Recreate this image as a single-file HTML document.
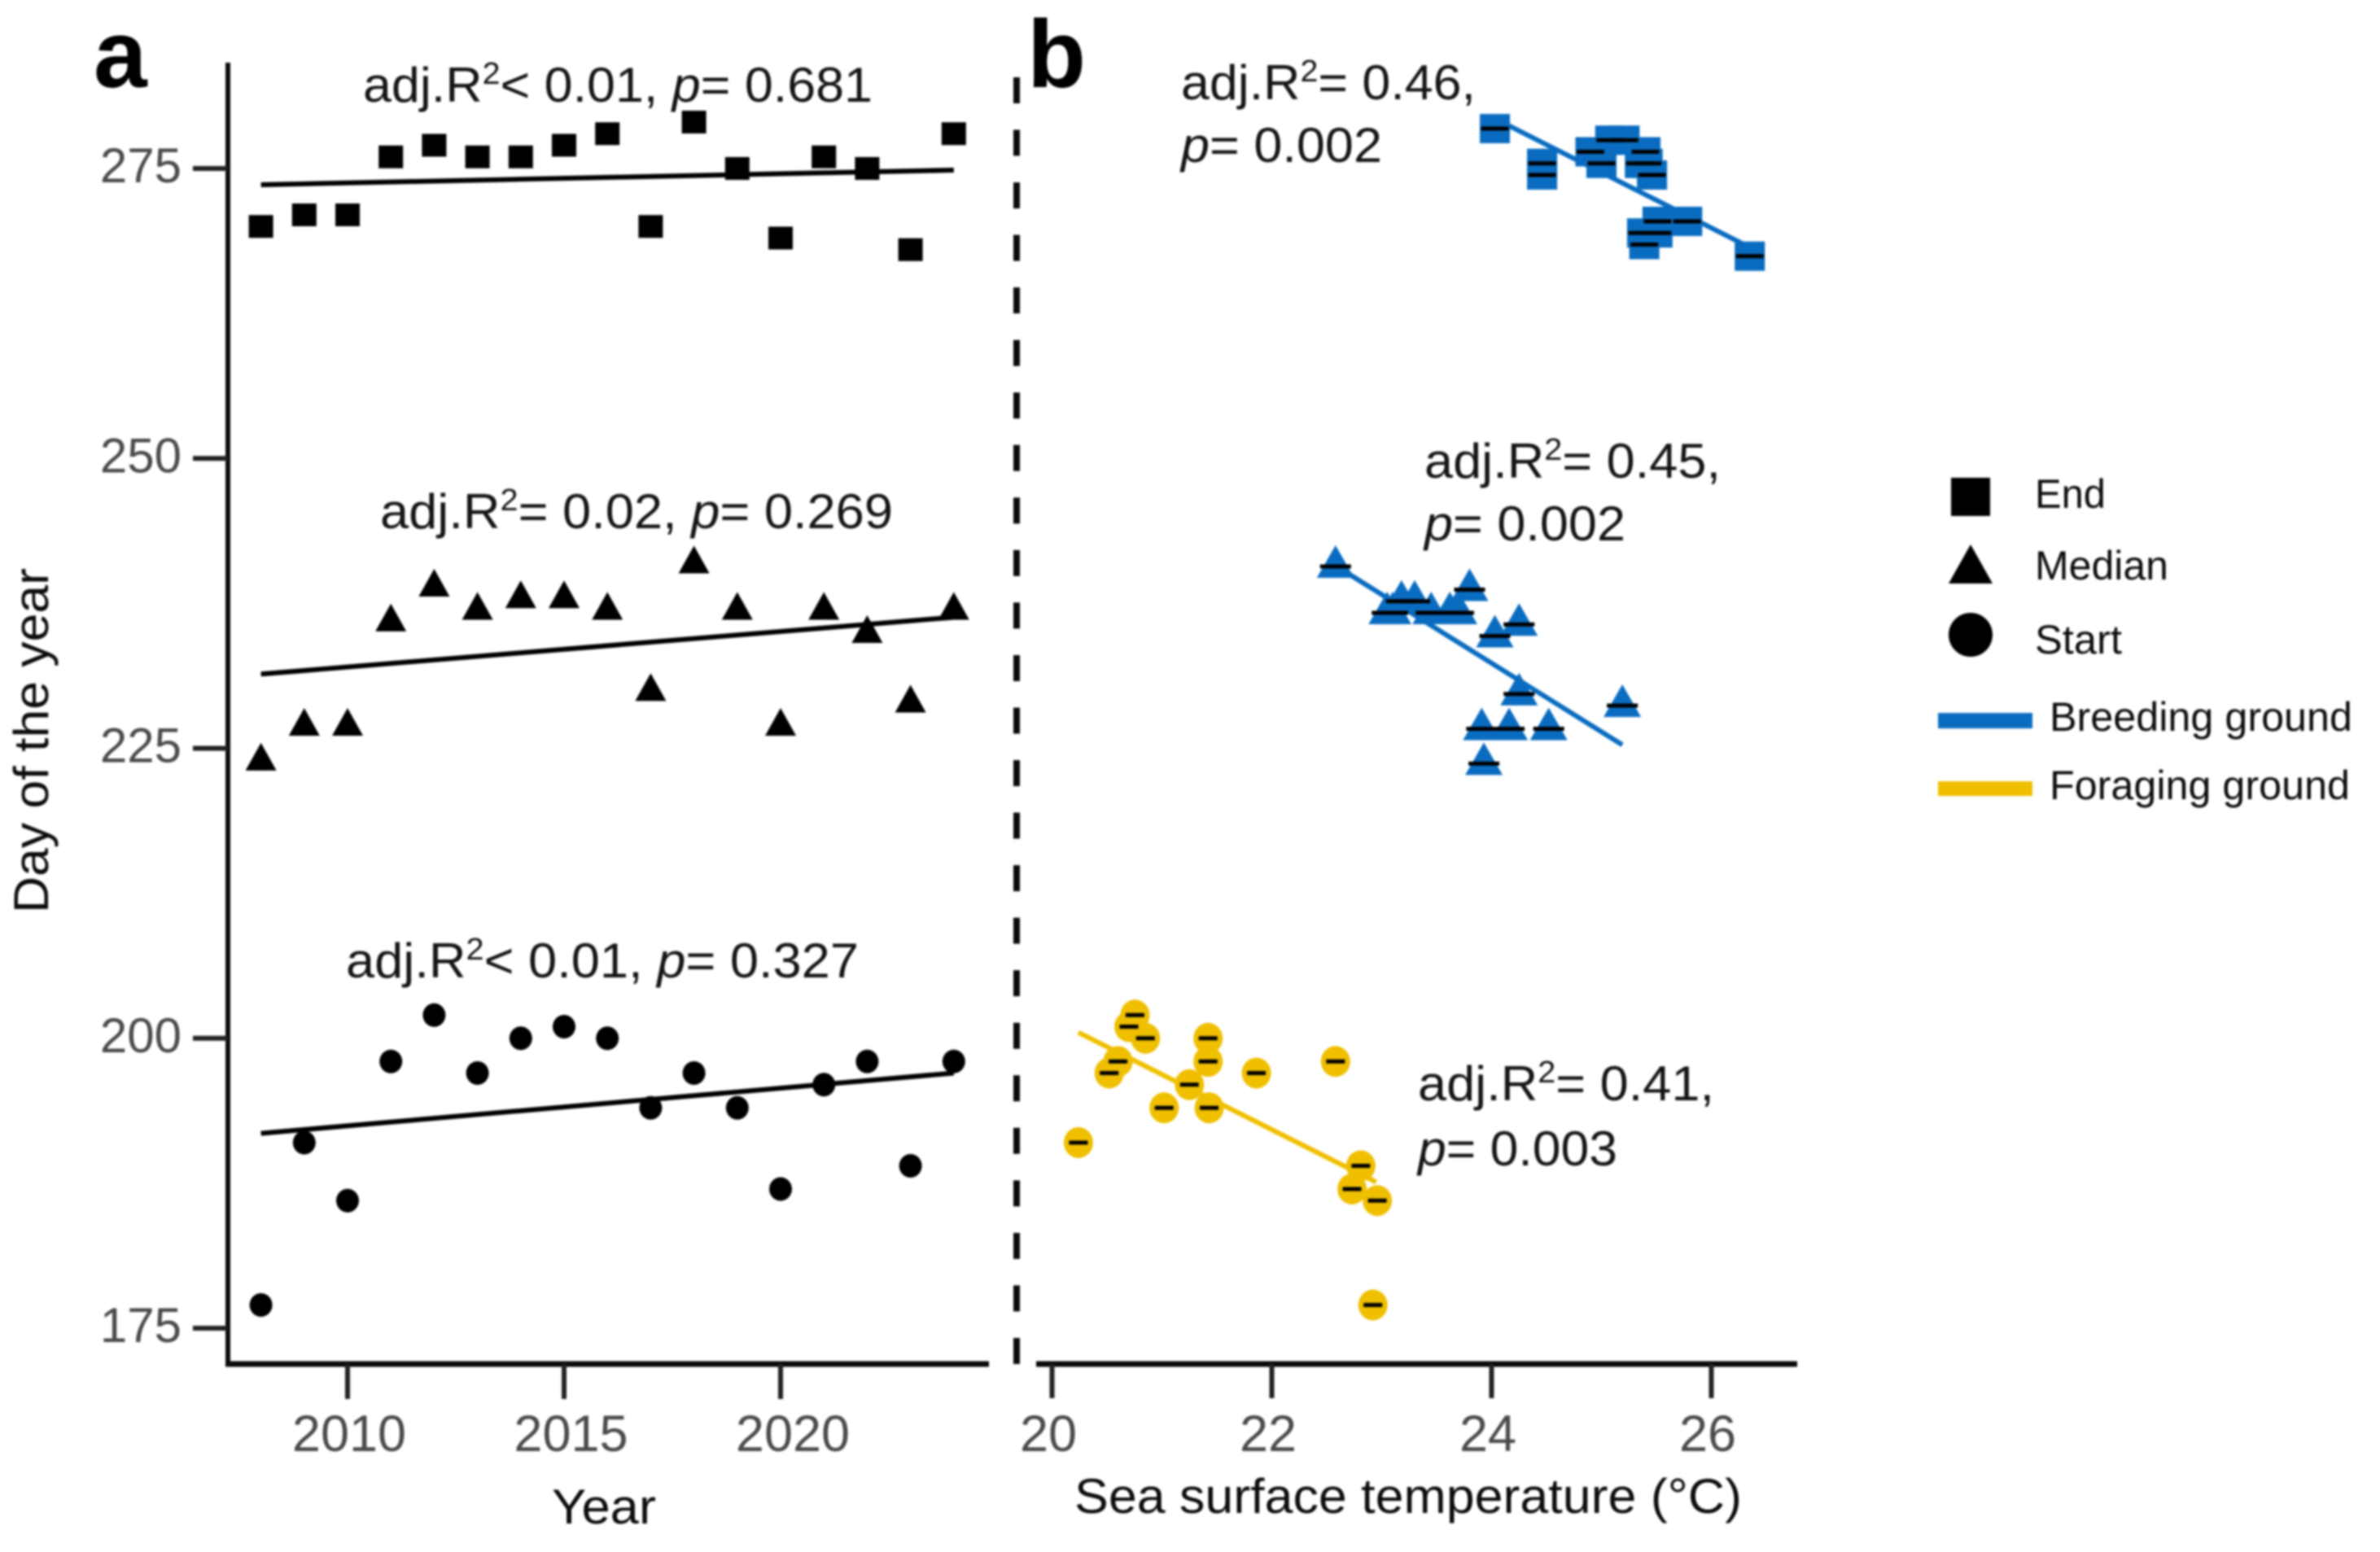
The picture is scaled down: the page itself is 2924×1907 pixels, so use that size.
<!DOCTYPE html>
<html lang="en">
<head>
<meta charset="utf-8">
<title>Phenology day of year by year and sea surface temperature</title>
<style>
html,body{margin:0;padding:0;background:#fff;}
svg{display:block;filter:blur(1.2px);}
text{font-family:"Liberation Sans",sans-serif;}
.ann{font-size:60.6px;fill:#141414;}
.ticklab{font-size:60px;fill:#4a4a4a;}
.xticklab{font-size:63px;fill:#4a4a4a;}
.axt{font-size:60px;fill:#0c0c0c;}
.leg{font-size:50.5px;fill:#0c0c0c;}
.panel{font-size:118px;font-weight:bold;fill:#000;}
</style>
</head>
<body>
<svg id="chart" xmlns="http://www.w3.org/2000/svg" width="2924" height="1907" viewBox="0 0 2924 1907">
  <rect width="2924" height="1907" fill="#fff"/>
  <g id="marks-a"></g>
  <g id="marks-b"></g>
  <g id="axes"></g>

  <line x1="1249" y1="95" x2="1249" y2="1676" stroke="#0a0a0a" stroke-width="8" stroke-dasharray="32 32.54"/>

  <text class="panel" x="115" y="107">a</text>
  <text class="panel" x="1262" y="107">b</text>

  <text class="ann" x="446" y="125" textLength="626" lengthAdjust="spacingAndGlyphs">adj.R<tspan font-size="38" dy="-22">2</tspan><tspan dy="22">&lt; 0.01, </tspan><tspan font-style="italic">p</tspan>= 0.681</text>
  <text class="ann" x="467" y="649" textLength="630" lengthAdjust="spacingAndGlyphs">adj.R<tspan font-size="38" dy="-22">2</tspan><tspan dy="22">= 0.02, </tspan><tspan font-style="italic">p</tspan>= 0.269</text>
  <text class="ann" x="425" y="1201" textLength="630" lengthAdjust="spacingAndGlyphs">adj.R<tspan font-size="38" dy="-22">2</tspan><tspan dy="22">&lt; 0.01, </tspan><tspan font-style="italic">p</tspan>= 0.327</text>

  <text class="ann" x="1451" y="122" textLength="362" lengthAdjust="spacingAndGlyphs">adj.R<tspan font-size="38" dy="-22">2</tspan><tspan dy="22">= 0.46,</tspan></text>
  <text class="ann" x="1451" y="199" textLength="247" lengthAdjust="spacingAndGlyphs"><tspan font-style="italic">p</tspan>= 0.002</text>
  <text class="ann" x="1750" y="587" textLength="364" lengthAdjust="spacingAndGlyphs">adj.R<tspan font-size="38" dy="-22">2</tspan><tspan dy="22">= 0.45,</tspan></text>
  <text class="ann" x="1750" y="664" textLength="247" lengthAdjust="spacingAndGlyphs"><tspan font-style="italic">p</tspan>= 0.002</text>
  <text class="ann" x="1742" y="1352" textLength="364" lengthAdjust="spacingAndGlyphs">adj.R<tspan font-size="38" dy="-22">2</tspan><tspan dy="22">= 0.41,</tspan></text>
  <text class="ann" x="1742" y="1432" textLength="245" lengthAdjust="spacingAndGlyphs"><tspan font-style="italic">p</tspan>= 0.003</text>

  <text class="axt" transform="translate(59,1122) rotate(-90)" x="0" y="0" textLength="424" lengthAdjust="spacingAndGlyphs">Day of the year</text>
  <text class="axt" x="678" y="1872" textLength="128" lengthAdjust="spacingAndGlyphs">Year</text>
  <text class="axt" x="1320" y="1859" textLength="820" lengthAdjust="spacingAndGlyphs">Sea surface temperature (°C)</text>

  <g>
    <rect x="2397" y="587" width="48" height="47" fill="#000"/>
    <polygon points="2421,669 2448,717 2394,717" fill="#000"/>
    <ellipse cx="2421" cy="780" rx="27" ry="27" fill="#000"/>
    <text class="leg" x="2500" y="624" textLength="87" lengthAdjust="spacingAndGlyphs">End</text>
    <text class="leg" x="2500" y="712" textLength="164" lengthAdjust="spacingAndGlyphs">Median</text>
    <text class="leg" x="2500" y="803" textLength="107" lengthAdjust="spacingAndGlyphs">Start</text>
    <rect x="2381" y="876" width="116" height="19" fill="#0a6cc0"/>
    <rect x="2381" y="960" width="116" height="18" fill="#efbf00"/>
    <text class="leg" x="2518" y="898" textLength="372" lengthAdjust="spacingAndGlyphs">Breeding ground</text>
    <text class="leg" x="2518" y="982" textLength="369" lengthAdjust="spacingAndGlyphs">Foraging ground</text>
  </g>
</svg>
<script>
// ----- data -----
const years = [2008,2009,2010,2011,2012,2013,2014,2015,2016,2017,2018,2019,2020,2021,2022,2023,2024];
const endDay = [270,271,271,276,277,276,276,277,278,270,279,275,269,276,275,268,278];
const medianDay = [224,227,227,236,239,237,238,238,237,230,241,237,227,237,235,229,237];
const startDay = [177,191,186,198,202,197,200,201,200,194,197,194,187,196,198,189,198];

const endSst = [25.37,25.51,25.78,24.46,24.9,25.0,25.35,25.4,25.08,25.51,24.03,24.46,25.39,25.42,25.46,26.35,25.21];
const medianSst = [23.93,23.91,24.16,24.25,23.8,23.05,23.18,23.3,23.1,24.25,22.58,23.45,24.52,23.62,24.03,25.19,23.7];
const startSst = [22.92,20.24,22.96,20.6,20.755,20.52,20.85,20.7,21.42,21.02,21.86,21.43,22.73,21.25,21.42,22.81,22.58];

const endYearTrend = [273.6,274.86];
const medianYearTrend = [231.4,236.3];
const startYearTrend = [191.8,197];
const trendYears = [2008,2024];

const endSstTrendX = [24.03,26.35];
const endSstTrendY = [279.3,268.2];
const medianSstTrendX = [22.58,25.19];
const medianSstTrendY = [240.75,225.3];
const startSstTrendX = [20.24,22.95];
const startSstTrendY = [200.5,187.6];

const dayTicks = [175,200,225,250,275];
const yearTicks = [2010,2015,2020];
const sstTicks = [20,22,24,26];

// ----- axis functions -----
const yDay = d => 207 + (275 - d) * 14.25;
const xYear = y => 427 + (y - 2010) * 53.2;
const xSst = s => 1292.5 + (s - 20) * 135;
const labelYear = y => 429 + (y - 2010) * 54.5;
const labelSst = s => 1288 + (s - 20) * 135;

const NS = 'http://www.w3.org/2000/svg';
const marksA = document.getElementById('marks-a');
const marksB = document.getElementById('marks-b');
const axes = document.getElementById('axes');
const BLUE = '#0a6cc0', YELLOW = '#efbf00', INK = '#0a0a0a';

function make(tag, attrs, parent) {
  const el = document.createElementNS(NS, tag);
  for (const k in attrs) el.setAttribute(k, attrs[k]);
  parent.appendChild(el);
  return el;
}
function drawSquare(parent, x, y, w, h, fill) {
  return make('rect', {x: x - w / 2, y: y - h / 2, width: w, height: h, fill: fill}, parent);
}
function drawTriangle(parent, x, y, w, up, down, fill) {
  return make('polygon', {points: x + ',' + (y - up) + ' ' + (x + w / 2) + ',' + (y + down) + ' ' + (x - w / 2) + ',' + (y + down), fill: fill}, parent);
}
function drawCircle(parent, x, y, rx, ry, fill) {
  return make('ellipse', {cx: x, cy: y, rx: rx, ry: ry, fill: fill}, parent);
}
function drawLine(parent, x1, y1, x2, y2, stroke, width) {
  return make('line', {x1: x1, y1: y1, x2: x2, y2: y2, stroke: stroke, 'stroke-width': width}, parent);
}
function drawDash(parent, x, y, w) {
  return make('rect', {x: x - w / 2, y: y - 2.5, width: w, height: 5, fill: '#000'}, parent);
}

// ----- panel a -----
years.forEach((yr, i) => {
  const sq = drawSquare(marksA, xYear(yr), yDay(endDay[i]), 30, 28, '#000');
  
  
  const tr = drawTriangle(marksA, xYear(yr), yDay(medianDay[i]), 38, 21, 13, '#000');
  
  
  const ci = drawCircle(marksA, xYear(yr), yDay(startDay[i]), 14, 14.5, '#000');
  
  
});
[endYearTrend, medianYearTrend, startYearTrend].forEach(tr => {
  const ln = drawLine(marksA, xYear(trendYears[0]), yDay(tr[0]), xYear(trendYears[1]), yDay(tr[1]), '#000', 6);
  
  
});

// ----- panel b -----
const trendBlue1 = drawLine(marksB, xSst(endSstTrendX[0]), yDay(endSstTrendY[0]), xSst(endSstTrendX[1]), yDay(endSstTrendY[1]), BLUE, 6);


const trendBlue2 = drawLine(marksB, xSst(medianSstTrendX[0]), yDay(medianSstTrendY[0]), xSst(medianSstTrendX[1]), yDay(medianSstTrendY[1]), BLUE, 6);


const trendYellow = drawLine(marksB, xSst(startSstTrendX[0]), yDay(startSstTrendY[0]), xSst(startSstTrendX[1]), yDay(startSstTrendY[1]), YELLOW, 6);



years.forEach((yr, i) => {
  const sq = drawSquare(marksB, xSst(endSst[i]), yDay(endDay[i]) + 8, 37, 36, BLUE);
  
  
  const tr = drawTriangle(marksB, xSst(medianSst[i]), yDay(medianDay[i]) + 4.5, 46, 26, 14, BLUE);
  
  
  const ci = drawCircle(marksB, xSst(startSst[i]), yDay(startDay[i]), 18, 19, YELLOW);
  
  
});
years.forEach((yr, i) => {
  const d1 = drawDash(marksB, xSst(endSst[i]), yDay(endDay[i]) + 8, 34);
  
  
  const d2 = drawDash(marksB, xSst(medianSst[i]), yDay(medianDay[i]) + 4.5, 38);
  
  
  const d3 = drawDash(marksB, xSst(startSst[i]), yDay(startDay[i]), 23);
  
  
});

// ----- axes -----
const yAxis = drawLine(axes, 280, 77, 280, 1679, INK, 6);


const xAxisA = drawLine(axes, 277, 1676, 1215, 1676, INK, 7);


const xAxisB = drawLine(axes, 1273, 1676, 2208, 1676, INK, 7);



function tickText(x, y, anchor, cls, str) {
  const t = make('text', {x: x, y: y, 'text-anchor': anchor, 'class': cls}, axes);
  t.textContent = str;
  return t;
}
dayTicks.forEach(v => {
  const tk = drawLine(axes, 237, yDay(v), 280, yDay(v), '#222', 6);
  
  
  const lb = tickText(223, yDay(v) + 17, 'end', 'ticklab', String(v));
  
  
});
yearTicks.forEach(v => {
  const tk = drawLine(axes, xYear(v), 1676, xYear(v), 1719, '#222', 6);
  
  
  const lb = tickText(labelYear(v), 1783, 'middle', 'xticklab', String(v));
  
  
});
sstTicks.forEach(v => {
  const tk = drawLine(axes, xSst(v), 1676, xSst(v), 1718, '#222', 6);
  
  
  const lb = tickText(labelSst(v), 1783, 'middle', 'xticklab', String(v));
  
  
});
</script>
</body>
</html>
